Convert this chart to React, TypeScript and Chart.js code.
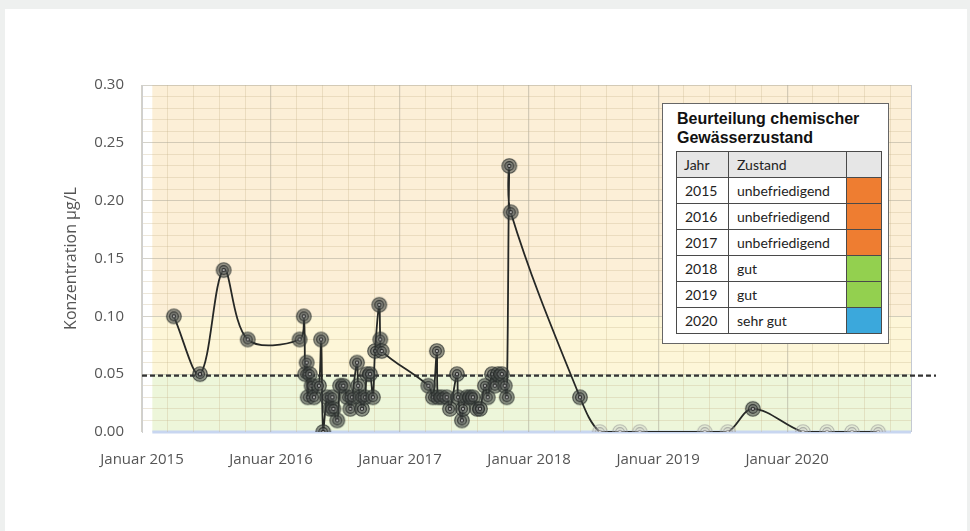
import React, { useEffect, useRef } from 'react';
import { Chart, registerables } from 'chart.js';

Chart.register(...registerables);

// ---- data ----
const dates: string[] = [
  '2015-04-01', '2015-06-14', '2015-08-20', '2015-10-27',
  '2016-03-22', '2016-04-03', '2016-04-07', '2016-04-11', '2016-04-14', '2016-04-20',
  '2016-04-25', '2016-05-02', '2016-05-16', '2016-05-22', '2016-05-28', '2016-06-08',
  '2016-06-17', '2016-06-23', '2016-06-26', '2016-07-07', '2016-07-15', '2016-07-24',
  '2016-08-04', '2016-08-13', '2016-08-18', '2016-09-01', '2016-09-04', '2016-09-10',
  '2016-09-15', '2016-09-24', '2016-09-29', '2016-10-08', '2016-10-16', '2016-10-22',
  '2016-11-03', '2016-11-06', '2016-11-10',
  '2017-03-22', '2017-04-04', '2017-04-15', '2017-04-18', '2017-04-29', '2017-05-13',
  '2017-05-22', '2017-06-11', '2017-06-14', '2017-06-25', '2017-06-28', '2017-07-09',
  '2017-07-18', '2017-07-26', '2017-08-07', '2017-08-15', '2017-08-29', '2017-09-06',
  '2017-09-18', '2017-09-26', '2017-10-05', '2017-10-16', '2017-10-24', '2017-10-30',
  '2017-11-06', '2017-11-10',
  '2018-05-25', '2018-07-20', '2018-09-15', '2018-11-10',
  '2019-05-13', '2019-07-17', '2019-09-26',
  '2020-02-15', '2020-04-23', '2020-07-03', '2020-09-15',
];
const values: number[] = [
  0.10, 0.05, 0.14, 0.08,
  0.08, 0.10, 0.05, 0.06, 0.03, 0.05,
  0.04, 0.03, 0.04, 0.08, 0.00, 0.03,
  0.02, 0.03, 0.02, 0.01, 0.04, 0.04,
  0.03, 0.02, 0.03, 0.06, 0.04, 0.03,
  0.02, 0.03, 0.05, 0.05, 0.03, 0.07,
  0.11, 0.08, 0.07,
  0.04, 0.03, 0.07, 0.03, 0.03, 0.03,
  0.02, 0.05, 0.03, 0.01, 0.02, 0.03,
  0.03, 0.03, 0.02, 0.02, 0.04, 0.03,
  0.05, 0.04, 0.05, 0.05, 0.04, 0.03,
  0.23, 0.19,
  0.03, 0.00, 0.00, 0.00,
  0.00, 0.00, 0.02,
  0.00, 0.00, 0.00, 0.00,
];
const yearLabels: number[] = [2015, 2016, 2017, 2018, 2019, 2020];
const yTickLabels: number[] = [0, 0.05, 0.1, 0.15, 0.2, 0.25, 0.3];
const grenzwert = 0.05;
const zoneLimits: number[] = [0, 0.05, 0.1, 0.3];

const tableYears: string[] = ['2015', '2016', '2017', '2018', '2019', '2020'];
const tableStatus: string[] = ['unbefriedigend', 'unbefriedigend', 'unbefriedigend', 'gut', 'gut', 'sehr gut'];
const tableColors: string[] = ['#ee7d31', '#ee7d31', '#ee7d31', '#93d04f', '#93d04f', '#3ba8dc'];

// ---- helpers ----
function toYear(d: string): number {
  const [y, m, dd] = d.split('-').map(Number);
  const s = Date.UTC(y, 0, 1);
  const e = Date.UTC(y + 1, 0, 1);
  return y + (Date.UTC(y, m - 1, dd) - s) / (e - s);
}

function makeMarker(light: boolean): HTMLCanvasElement {
  const c = document.createElement('canvas');
  c.width = 18;
  c.height = 18;
  const g = c.getContext('2d')!;
  const cx = 9, cy = 9;
  g.beginPath();
  g.arc(cx, cy, 7.3, 0, Math.PI * 2);
  g.fillStyle = light ? 'rgba(190,190,190,0.25)' : 'rgba(70,75,72,0.55)';
  g.fill();
  g.lineWidth = 1.1;
  g.strokeStyle = light ? 'rgba(150,150,150,0.55)' : 'rgba(40,45,42,0.8)';
  g.stroke();
  g.beginPath();
  g.arc(cx, cy, 4.4, 0, Math.PI * 2);
  g.fillStyle = light ? 'rgba(210,210,210,0.3)' : 'rgba(110,115,112,0.55)';
  g.fill();
  g.strokeStyle = light ? 'rgba(140,140,140,0.6)' : 'rgba(35,38,36,0.85)';
  g.stroke();
  g.beginPath();
  g.arc(cx, cy, 1.6, 0, Math.PI * 2);
  g.fillStyle = light ? 'rgba(240,240,240,0.9)' : 'rgba(215,215,215,0.9)';
  g.fill();
  g.strokeStyle = light ? 'rgba(140,140,140,0.7)' : 'rgba(30,30,30,0.9)';
  g.stroke();
  return c;
}

const isInt = (v: number) => Math.abs(v - Math.round(v)) < 1e-6;
const isMajorY = (v: number) => Math.abs(v / 0.05 - Math.round(v / 0.05)) < 1e-6;

export default function App() {
  const ref = useRef<HTMLCanvasElement>(null);

  useEffect(() => {
    document.body.style.margin = '0';
    const canvas = ref.current;
    if (!canvas) return;
    const dark = makeMarker(false);
    const light = makeMarker(true);
    const xs = dates.map(toYear);
    const points = xs.map((x, i) => ({ x, y: values[i] }));
    const xMin = 2015;
    const xMax = 2020.96;

    const zonesPlugin = {
      id: 'zones',
      beforeDraw(chart: any) {
        const { ctx, chartArea } = chart;
        const y = chart.scales.y;
        const x = chart.scales.x;
        const left = x.getPixelForValue(2015.08);
        const right = chartArea.right;
        const cols = ['rgb(237,246,218)', 'rgb(253,246,216)', 'rgb(252,239,215)'];
        ctx.save();
        for (let i = 0; i < zoneLimits.length - 1; i++) {
          const y0 = y.getPixelForValue(zoneLimits[i]);
          const y1 = y.getPixelForValue(zoneLimits[i + 1]);
          ctx.fillStyle = cols[i];
          ctx.fillRect(left, y1, right - left, y0 - y1);
        }
        ctx.fillStyle = 'rgb(200,214,240)';
        ctx.fillRect(left, y.getPixelForValue(0) - 1.5, right - left, 3);
        ctx.restore();
      },
      beforeDatasetsDraw(chart: any) {
        const { ctx, chartArea } = chart;
        const yy = chart.scales.y.getPixelForValue(grenzwert) + 1.5;
        ctx.save();
        ctx.strokeStyle = '#333';
        ctx.lineWidth = 2.2;
        ctx.setLineDash([5, 3]);
        ctx.beginPath();
        ctx.moveTo(chartArea.left, yy);
        ctx.lineTo(936, yy);
        ctx.stroke();
        ctx.restore();
      },
    };

    const chart = new Chart(canvas, {
      type: 'line',
      data: {
        datasets: [
          {
            data: points,
            borderColor: '#262826',
            borderWidth: 1.8,
            tension: 0.35,
            fill: false,
            pointStyle: ((c: any) => {
              const i = c.dataIndex;
              return values[i] === 0 && xs[i] > 2018 ? light : dark;
            }) as any,
            pointRadius: 7,
          },
        ],
      },
      options: {
        responsive: false,
        animation: false,
        layout: { padding: { left: 0, top: 85, right: 59, bottom: 0 } },
        plugins: { legend: { display: false }, tooltip: { enabled: false } },
        scales: {
          x: {
            type: 'linear',
            min: xMin,
            max: xMax,
            afterBuildTicks: (s: any) => {
              const t: any[] = [];
              for (let k = 0; k < 30; k++) t.push({ value: xMin + k * 0.2 });
              t.push({ value: xMax });
              s.ticks = t;
            },
            afterFit: (s: any) => {
              s.height = 99;
            },
            ticks: {
              autoSkip: false,
              maxRotation: 0,
              minRotation: 0,
              padding: 19,
              color: '#555',
              font: { family: '"Open Sans", sans-serif', size: 15 },
              callback: (v: any) => {
                const n = Number(v);
                return isInt(n) && yearLabels.includes(Math.round(n)) ? 'Januar ' + Math.round(n) : '';
              },
            },
            grid: {
              drawTicks: false,
              color: (c: any) => {
                const v = c.tick ? c.tick.value : 0;
                if (Math.abs(v - xMax) < 1e-6) return 'rgba(190,195,205,0.9)';
                return isInt(v) ? 'rgba(170,165,150,0.5)' : 'rgba(200,180,140,0.32)';
              },
              lineWidth: (c: any) => (c.tick && isInt(c.tick.value) ? 1.2 : 1),
            },
            border: { display: false },
          },
          y: {
            min: 0,
            max: 0.3,
            afterBuildTicks: (s: any) => {
              const t: any[] = [];
              for (let k = 0; k <= 30; k++) t.push({ value: k / 100 });
              s.ticks = t;
            },
            afterFit: (s: any) => {
              s.width = 142;
            },
            ticks: {
              autoSkip: false,
              padding: 18,
              color: '#555',
              font: { family: '"Open Sans", sans-serif', size: 15 },
              callback: (v: any) => {
                const n = Number(v);
                const hit = yTickLabels.find((l) => Math.abs(l - n) < 1e-6);
                return hit !== undefined ? hit.toFixed(2) : '';
              },
            },
            grid: {
              drawTicks: false,
              color: (c: any) => {
                const v = c.tick ? c.tick.value : 0;
                if (v === 0) return 'rgba(0,0,0,0)';
                return isMajorY(v) ? 'rgba(170,165,150,0.5)' : 'rgba(200,180,140,0.32)';
              },
            },
            border: { display: true, color: '#cfcfcf', width: 1 },
            title: {
              display: true,
              text: 'Konzentration µg/L',
              color: '#555',
              font: { family: '"Open Sans", sans-serif', size: 16 },
              padding: { top: 62, bottom: 0 },
            },
          },
        },
      },
      plugins: [zonesPlugin],
    } as any);

    return () => chart.destroy();
  }, []);

  const cellBase: React.CSSProperties = {
    border: '1px solid #4a4a4a',
    height: 26,
    padding: '0 0 0 8px',
    boxSizing: 'border-box',
    font: '14px Lato, "Open Sans", sans-serif',
    color: '#222',
    textAlign: 'left',
    verticalAlign: 'middle',
  };

  return (
    <div style={{ position: 'relative', width: 970, height: 531, background: '#eef0ef', overflow: 'hidden' }}>
      <div style={{ position: 'absolute', left: 5, top: 9, width: 962, height: 522, background: '#fff' }} />
      <canvas ref={ref} width={970} height={531} style={{ position: 'absolute', left: 0, top: 0, width: 970, height: 531 }} />
      <div
        style={{
          position: 'absolute',
          left: 662,
          top: 103,
          width: 227,
          height: 241,
          background: '#fff',
          border: '1px solid #666',
          boxSizing: 'border-box',
        }}
      >
        <div
          style={{
            position: 'absolute',
            left: 14,
            top: 5,
            font: 'bold 16px "Liberation Sans", Arial, sans-serif',
            lineHeight: '19px',
            color: '#111',
            whiteSpace: 'nowrap',
          }}
        >
          Beurteilung chemischer
          <br />
          Gewässerzustand
        </div>
        <table
          style={{
            position: 'absolute',
            left: 13,
            top: 47,
            borderCollapse: 'collapse',
            tableLayout: 'fixed',
            width: 205,
          }}
        >
          <colgroup>
            <col style={{ width: 52 }} />
            <col style={{ width: 118 }} />
            <col style={{ width: 35 }} />
          </colgroup>
          <tbody>
            <tr style={{ background: '#e6e6e6' }}>
              <td style={{ ...cellBase, paddingLeft: 7 }}>Jahr</td>
              <td style={cellBase}>Zustand</td>
              <td style={cellBase}></td>
            </tr>
            {tableYears.map((y, i) => (
              <tr key={y}>
                <td style={cellBase}>{y}</td>
                <td style={cellBase}>{tableStatus[i]}</td>
                <td style={{ ...cellBase, background: tableColors[i] }}></td>
              </tr>
            ))}
          </tbody>
        </table>
      </div>
    </div>
  );
}
